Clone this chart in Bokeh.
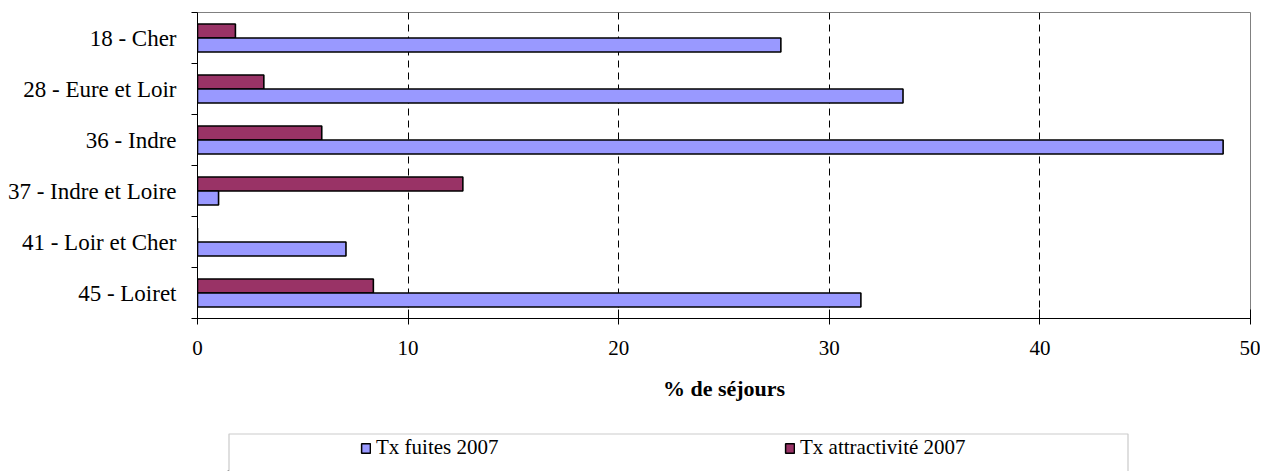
from bokeh.plotting import figure
from bokeh.models import (Range1d, FixedTicker, Legend, LegendItem, BoxAnnotation,
                          Spacer, ColumnDataSource)
from bokeh.layouts import column, row
from bokeh.embed import file_html
from bokeh.resources import INLINE

# ---- data ----
departements = ["18 - Cher", "28 - Eure et Loir", "36 - Indre",
                "37 - Indre et Loire", "41 - Loir et Cher", "45 - Loiret"]
tx_fuites_2007 = [27.7, 33.5, 48.7, 1.0, 7.05, 31.5]
tx_attractivite_2007 = [1.8, 3.15, 5.9, 12.6, 0.0, 8.35]
x_ticks = [0, 10, 20, 30, 40, 50]
grid_ticks = [10, 20, 30, 40]
series_labels = ["Tx fuites 2007", "Tx attractivité 2007"]
x_title = "% de séjours"

FONT = "'Liberation Serif', 'Times New Roman', serif"
BLUE = "#9999FF"
RED = "#993366"

n = len(departements)
centers = [i + 0.5 for i in range(n)]
BAR_H = 0.275

src = ColumnDataSource(dict(
    dep=departements,
    fuites=tx_fuites_2007,
    attr=tx_attractivite_2007,
    y_f=[c + BAR_H / 2 for c in centers],
    y_a=[c - BAR_H / 2 for c in centers],
))

p = figure(width=1260, height=432,
           x_range=Range1d(0, 50), y_range=Range1d(n, 0),
           output_backend="svg", toolbar_location=None,
           min_border_left=197, min_border_right=10,
           min_border_top=12, min_border_bottom=114)
p.outline_line_color = "#808080"
p.outline_line_width = 1

p.hbar(y="y_a", left=0, right="attr", height=BAR_H, source=src,
       fill_color=RED, line_color="black", line_width=1.6)
p.hbar(y="y_f", left=0, right="fuites", height=BAR_H, source=src,
       fill_color=BLUE, line_color="black", line_width=1.6)

# x axis
xa = p.xaxis[0]
xa.ticker = FixedTicker(ticks=x_ticks)
xa.axis_line_color = "black"
xa.major_tick_line_color = "black"
xa.major_tick_in = 9
xa.major_tick_out = 6
xa.minor_tick_line_color = None
xa.major_label_text_font = FONT
xa.major_label_text_font_size = "21px"
xa.major_label_text_color = "black"
xa.major_label_standoff = 16
xa.axis_label = x_title
xa.axis_label_text_font = FONT
xa.axis_label_text_font_size = "22px"
xa.axis_label_text_font_style = "bold"
xa.axis_label_text_color = "black"
xa.axis_label_standoff = 18

# y axis
ya = p.yaxis[0]
ya.ticker = FixedTicker(ticks=centers, minor_ticks=list(range(n + 1)))
ya.major_label_overrides = {c: d for c, d in zip(centers, departements)}
ya.axis_line_color = "black"
ya.major_tick_in = 0
ya.major_tick_out = 0
ya.major_tick_line_color = None
ya.minor_tick_in = 0
ya.minor_tick_out = 6
ya.minor_tick_line_color = "black"
ya.major_label_text_font = FONT
ya.major_label_text_font_size = "23px"
ya.major_label_text_color = "black"
ya.major_label_standoff = 15

# grid
p.ygrid.visible = False
p.xgrid.ticker = FixedTicker(ticks=grid_ticks)
p.xgrid.grid_line_color = "black"
p.xgrid.grid_line_dash = "7 5"
p.xgrid.grid_line_width = 1

# ---- legend figure ----
p2 = figure(width=902, height=39, x_range=Range1d(0, 902), y_range=Range1d(0, 39),
            output_backend="svg", toolbar_location=None,
            x_axis_location=None, y_axis_location=None, min_border=0)
p2.outline_line_color = None
p2.grid.visible = False
p2.add_layout(BoxAnnotation(left=1.5, right=900.5, top=37.5, bottom=-20,
                            fill_alpha=0, line_color="#505050", line_width=1.2))
# legend swatches: renderers whose single row sits outside the visible range
r_f = p2.hbar(y=[-100], left=[0], right=[1], height=1, fill_color=BLUE,
              line_color="black", line_width=1.5)
r_a = p2.hbar(y=[-100], left=[0], right=[1], height=1, fill_color=RED,
              line_color="black", line_width=1.5)
leg = Legend(items=[LegendItem(label=series_labels[0], renderers=[r_f]),
                    LegendItem(label=series_labels[1], renderers=[r_a])],
             orientation="horizontal", location=(133, 11),
             padding=0, spacing=28, margin=0,
             glyph_width=11, glyph_height=12, label_standoff=5,
             label_width=380, label_height=20,
             label_text_font=FONT, label_text_font_size="21px",
             label_text_color="black",
             border_line_color=None, background_fill_alpha=0)
p2.add_layout(leg, "center")

layout = column(p, row(Spacer(width=227, height=39), p2))
open("out.html", "w").write(file_html(layout, INLINE))
